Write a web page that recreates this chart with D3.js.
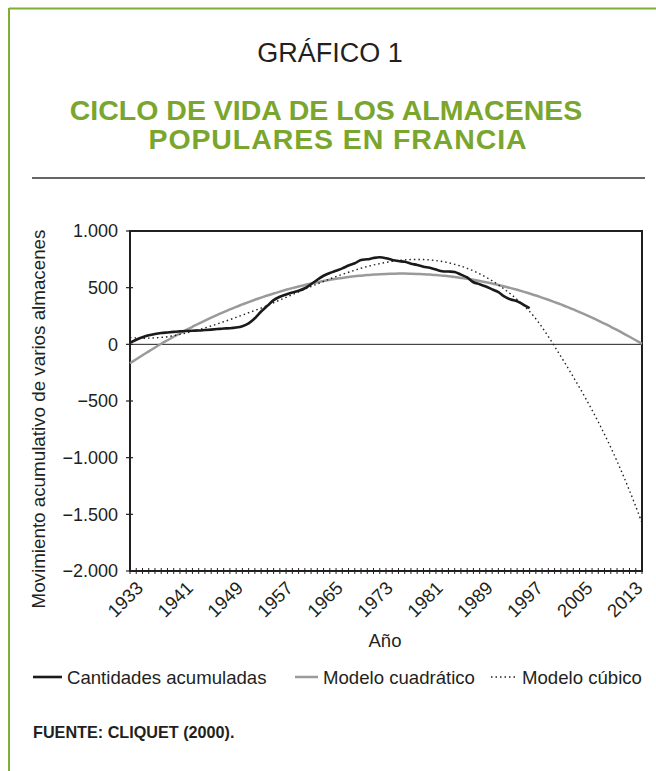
<!DOCTYPE html>
<html><head><meta charset="utf-8">
<script src="https://cdn.jsdelivr.net/npm/d3@7"></script>
<style>html,body{margin:0;padding:0;background:#fff}svg{display:block;font-family:"Liberation Sans",Arial,sans-serif}</style>
</head><body>
<svg id="c" width="656" height="771"></svg>
<script>
const years = d3.range(1933, 2016);
const yTicks = [1000, 500, 0, -500, -1000, -1500, -2000];
const xLabelYears = [1933, 1941, 1949, 1957, 1965, 1973, 1981, 1989, 1997, 2005, 2013];

// Cantidades acumuladas 1933-1997
const acumYears = d3.range(1933, 1998);
const acumuladas = [15, 40, 62, 80, 92, 100, 105, 110, 115, 118, 120, 122, 126, 130, 135, 140, 142, 148, 160, 185,
  230, 290, 340, 390, 420, 440, 458, 472, 495, 530, 570, 605, 630, 650, 670, 695, 715, 745, 750, 762,
  768, 760, 745, 735, 728, 712, 700, 685, 675, 660, 645, 642, 638, 615, 590, 548, 530, 510, 485, 460,
  420, 395, 380, 350, 320];

// Modelo cuadrático 1933-2015
const cuadratico = [-167, -131, -96, -62, -28, 5, 36, 67, 97, 127, 155, 183, 209, 235, 260, 285, 308, 331, 352, 373,
  393, 412, 431, 448, 465, 481, 496, 510, 524, 536, 548, 559, 569, 578, 586, 594, 601, 606, 611, 616,
  619, 621, 623, 624, 624, 623, 621, 619, 616, 611, 606, 601, 594, 586, 578, 569, 559, 548, 536, 524,
  510, 496, 481, 465, 448, 431, 412, 393, 373, 352, 331, 308, 285, 260, 235, 209, 183, 155, 127, 97,
  67, 36, 5];

// Modelo cúbico 1933-2015
const cubico = [60, 56, 54, 55, 57, 61, 67, 76, 88, 100, 114, 129, 145, 162, 180, 199, 218, 238, 258, 279,
  299, 320, 343, 367, 391, 415, 439, 463, 487, 510, 533, 555, 577, 598, 617, 636, 654, 671, 686, 700,
  712, 723, 732, 740, 745, 748, 749, 748, 745, 739, 731, 720, 706, 690, 670, 648, 622, 593, 561, 525,
  485, 442, 396, 345, 290, 225, 150, 68, -18, -106, -196, -288, -382, -479, -580, -685, -795, -910, -1031, -1158,
  -1291, -1430, -1576];

const svg = d3.select('#c');
const green = '#7fae35';
const ink = '#231f20';

// frame
svg.append('line').attr('x1', 9).attr('x2', 656).attr('y1', 8.5).attr('y2', 8.5).attr('stroke', green).attr('stroke-width', 2);
svg.append('line').attr('x1', 9).attr('x2', 9).attr('y1', 8).attr('y2', 771).attr('stroke', green).attr('stroke-width', 2);

svg.append('text').attr('x', 330).attr('y', 62).attr('text-anchor', 'middle')
  .attr('font-size', 27).attr('fill', ink).text('GRÁFICO 1');
const tcol = '#7aa62d';
svg.append('text').attr('x', 326).attr('y', 120).attr('text-anchor', 'middle')
  .attr('font-size', 28.5).attr('font-weight', 'bold').attr('fill', tcol).text('CICLO DE VIDA DE LOS ALMACENES');
svg.append('text').attr('x', 338).attr('y', 149).attr('text-anchor', 'middle').attr('letter-spacing', 0.9)
  .attr('font-size', 28.5).attr('font-weight', 'bold').attr('fill', tcol).text('POPULARES EN FRANCIA');
svg.append('line').attr('x1', 32).attr('x2', 645).attr('y1', 178).attr('y2', 178).attr('stroke', '#333').attr('stroke-width', 1.5);

const L = 130, R = 642, T = 231, B = 571;
const x = d3.scaleLinear().domain([1933, 2015]).range([L, R]);
const y = d3.scaleLinear().domain([-2000, 1000]).range([B, T]);

// y axis
const yAxis = d3.axisLeft(y).tickValues(yTicks).tickSize(0).tickPadding(12)
  .tickFormat(d => d3.format(',')(d).replace(/,/g, '.'));
const gy = svg.append('g').attr('transform', `translate(${L},0)`).call(yAxis);
gy.select('.domain').remove();
gy.selectAll('text').attr('font-size', 18).attr('fill', ink).attr('font-family', '"Liberation Sans",Arial,sans-serif');
// y ticks crossing
svg.append('g').selectAll('line').data(yTicks).join('line')
  .attr('x1', L - 4).attr('x2', L + 3).attr('y1', d => y(d)).attr('y2', d => y(d))
  .attr('stroke', ink).attr('stroke-width', 1.2);

// x ticks every year
svg.append('g').selectAll('line').data(years).join('line')
  .attr('x1', d => x(d)).attr('x2', d => x(d)).attr('y1', B - 3).attr('y2', B + 3)
  .attr('stroke', ink).attr('stroke-width', 1);

// x labels
svg.append('g').selectAll('text').data(xLabelYears).join('text')
  .attr('transform', d => `translate(${x(d) + 5},${B + 9}) rotate(-45)`)
  .attr('text-anchor', 'end').attr('dy', '0.71em').attr('font-size', 18.5).attr('fill', ink)
  .text(d => d);

// zero line
svg.append('line').attr('x1', L).attr('x2', R).attr('y1', y(0)).attr('y2', y(0)).attr('stroke', ink).attr('stroke-width', 1);

// frame of plot
svg.append('rect').attr('x', L).attr('y', T).attr('width', R - L).attr('height', B - T)
  .attr('fill', 'none').attr('stroke', ink).attr('stroke-width', 2);

const line = d3.line().x(d => x(d[0])).y(d => y(d[1])).curve(d3.curveCatmullRom.alpha(0.5));

svg.append('path').datum(years.map((yr, i) => [yr, cuadratico[i]]))
  .attr('d', line).attr('fill', 'none').attr('stroke', '#9a9a9a').attr('stroke-width', 2.5);
svg.append('path').datum(years.map((yr, i) => [yr, cubico[i]]))
  .attr('d', line).attr('fill', 'none').attr('stroke', ink).attr('stroke-width', 1.4).attr('stroke-dasharray', '1.5,3');
svg.append('path').datum(acumYears.map((yr, i) => [yr, acumuladas[i]]))
  .attr('d', line).attr('fill', 'none').attr('stroke', '#1a1a1a').attr('stroke-width', 2.6);

// axis titles
svg.append('text').attr('transform', `translate(45,419) rotate(-90)`).attr('text-anchor', 'middle')
  .attr('font-size', 18.8).attr('fill', ink).text('Movimiento acumulativo de varios almacenes');
svg.append('text').attr('x', 385).attr('y', 647).attr('text-anchor', 'middle')
  .attr('font-size', 18.5).attr('fill', ink).text('Año');

// legend
const leg = [
  {name: 'Cantidades acumuladas', x1: 33, x2: 62, tx: 67, stroke: '#1a1a1a', w: 2.6, dash: null},
  {name: 'Modelo cuadrático', x1: 295, x2: 318, tx: 323, stroke: '#9a9a9a', w: 2.5, dash: null},
  {name: 'Modelo cúbico', x1: 491, x2: 516, tx: 522, stroke: ink, w: 1.3, dash: '1.5,3'}
];
const lg = svg.append('g');
leg.forEach(l => {
  lg.append('line').attr('x1', l.x1).attr('x2', l.x2).attr('y1', 677).attr('y2', 677)
    .attr('stroke', l.stroke).attr('stroke-width', l.w).attr('stroke-dasharray', l.dash);
  lg.append('text').attr('x', l.tx).attr('y', 684).attr('font-size', 18.6).attr('fill', ink).text(l.name);
});

svg.append('text').attr('x', 33).attr('y', 738).attr('font-size', 16.2).attr('font-weight', 'bold')
  .attr('fill', ink).text('FUENTE: CLIQUET (2000).');
</script>
</body></html>
